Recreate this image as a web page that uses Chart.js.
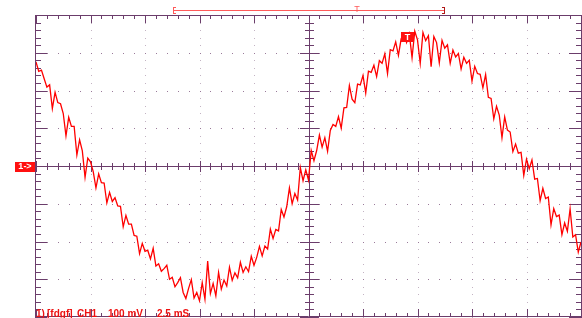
<!DOCTYPE html>
<html>
<head>
<meta charset="utf-8">
<style>
  html, body { margin: 0; padding: 0; background: #fff; }
  canvas { display: block; }
</style>
<script src="https://cdn.jsdelivr.net/npm/chart.js@4.4.0/dist/chart.umd.min.js"></script>
</head>
<body>
<canvas id="scope" width="582" height="318"></canvas>
<script>
// CH1 samples, in vertical divisions, one sample every 0.05 horizontal division
var sampleStep = 0.05;
var ch1Trace = [
  2.76, 2.51, 2.54, 2.31, 2.09, 2.15, 1.52, 1.95, 1.68, 1.65,
  1.39, 0.80, 1.29, 1.05, 1.05, 0.29, 0.69, 0.40, -0.30, 0.21,
  0.11, -0.15, -0.58, -0.21, -0.44, -0.45, -0.98, -0.70, -0.94, -0.84,
  -1.06, -1.07, -1.61, -1.31, -1.54, -1.54, -1.84, -1.86, -2.32, -2.05,
  -2.26, -2.23, -2.46, -2.18, -2.65, -2.59, -2.79, -2.72, -2.63, -3.00,
  -2.95, -3.20, -3.09, -2.96, -3.35, -3.51, -3.24, -3.01, -3.50, -3.35,
  -3.57, -3.09, -3.53, -2.52, -3.38, -3.11, -3.44, -2.82, -3.26, -3.02,
  -3.18, -2.68, -3.03, -2.83, -2.96, -2.55, -2.82, -2.67, -2.80, -2.39,
  -2.63, -2.42, -2.13, -2.38, -2.12, -2.20, -1.67, -1.92, -1.68, -1.72,
  -1.15, -1.35, -1.08, -0.58, -1.00, -0.73, -0.90, -0.04, -0.39, -0.10,
  -0.37, 0.41, 0.14, 0.41, 0.82, 0.50, 0.75, 0.39, 0.94, 1.10,
  1.05, 1.31, 1.00, 1.54, 1.55, 2.13, 1.77, 1.68, 2.17, 2.15,
  2.40, 1.93, 2.51, 2.48, 2.67, 2.37, 2.79, 2.72, 2.97, 2.45,
  3.08, 3.05, 3.29, 2.93, 3.37, 3.51, 3.27, 3.50, 2.87, 3.57,
  3.34, 2.72, 3.54, 3.32, 3.45, 2.63, 3.43, 3.27, 2.73, 3.33,
  3.12, 3.21, 2.72, 3.07, 2.89, 2.98, 2.57, 2.88, 2.72, 2.80,
  2.25, 2.64, 2.45, 2.43, 2.07, 2.42, 1.82, 1.79, 1.25, 1.58,
  1.35, 0.75, 1.30, 0.95, 0.90, 0.38, 0.58, 0.34, 0.36, -0.25,
  0.18, -0.07, 0.16, -0.35, -0.33, -0.92, -0.59, -0.86, -0.82, -1.56,
  -1.13, -1.34, -1.30, -1.82, -1.51, -1.73, -1.14, -1.88, -1.82, -2.28,
  -2.01
];
var xDivisions = [0, 1, 2, 3, 4, 5, 6, 7, 8, 9, 10];
var yDivisions = [-4, -3, -2, -1, 0, 1, 2, 3, 4];
var readout = ['1)', '[fdgf]', 'CH1', '100 mV', '2.5 mS'];
var readoutX = [36, 47, 77, 108, 157];
var peakMarkerAt = [6.7, 3.55];   // where the "T" flag sits, in divisions

var points = ch1Trace.map(function (v, i) {
  return { x: i * sampleStep, y: v };
});

var purple = '#6b3d6b';

function ticksAlong(from, to, step, draw) {
  for (var v = from; v <= to + 1e-6; v += step) draw(Math.round(v * 1000) / 1000);
}

var graticule = {
  id: 'graticule',
  beforeDatasetsDraw: function (chart) {
    var c = chart.ctx, xs = chart.scales.x, ys = chart.scales.y;
    var X = function (v) { return Math.round(xs.getPixelForValue(v)); };
    var Y = function (v) { return Math.round(ys.getPixelForValue(v)); };
    var L = X(0), R = X(10), T = Y(4), B = Y(-4), CX = X(5), CY = Y(0);
    c.save();

    // dotted grid
    xDivisions.forEach(function (d) {
      if (d === 0 || d === 5 || d === 10) return;
      c.fillStyle = '#c3b3c3';
      ticksAlong(-4, 4, 0.2, function (v) { c.fillRect(X(d), Y(v), 1, 1); });
    });
    yDivisions.forEach(function (d) {
      if (d === -4 || d === 0 || d === 4) return;
      c.fillStyle = '#9a7a9a';
      ticksAlong(0, 10, 0.2, function (v) { c.fillRect(X(v), Y(d), 1, 1); });
    });

    c.strokeStyle = purple;
    c.lineWidth = 1;
    c.beginPath();
    // frame
    c.moveTo(L - 0.5, T); c.lineTo(L - 0.5, B + 1);
    c.moveTo(R + 0.5, T); c.lineTo(R + 0.5, B + 1);
    c.moveTo(L - 1, T + 0.5); c.lineTo(R + 1, T + 0.5);
    c.moveTo(L - 1, B - 0.5); c.lineTo(R + 1, B - 0.5);
    // centre axes
    c.moveTo(L, CY + 0.5); c.lineTo(R, CY + 0.5);
    c.moveTo(CX + 0.5, T); c.lineTo(CX + 0.5, B);

    ticksAlong(0, 10, 0.2, function (v) {
      var major = Math.abs(v - Math.round(v)) < 1e-6;
      var px = X(v) + 0.5;
      c.moveTo(px, T); c.lineTo(px, T + (major ? 8 : 4));
      c.moveTo(px, B); c.lineTo(px, B - (major ? 8 : 4));
      c.moveTo(px, CY - (major ? 5 : 3)); c.lineTo(px, CY + (major ? 6 : 4));
    });
    ticksAlong(-4, 4, 0.2, function (v) {
      var major = Math.abs(v - Math.round(v)) < 1e-6;
      var py = Y(v) + 0.5;
      c.moveTo(L, py); c.lineTo(L + (major ? 11 : 5), py);
      c.moveTo(R, py); c.lineTo(R - (major ? 12 : 5), py);
      c.moveTo(CX - (major ? 9 : 4), py); c.lineTo(CX + (major ? 10 : 5), py);
    });
    c.stroke();
    c.restore();
  },
  afterDatasetsDraw: function (chart) {
    var c = chart.ctx, xs = chart.scales.x, ys = chart.scales.y;
    var CY = Math.round(ys.getPixelForValue(0));
    c.save();

    // channel 1 ground marker
    c.fillStyle = '#ff1010';
    c.fillRect(15, CY - 4, 20, 10);
    c.fillStyle = '#fff';
    c.font = 'bold 9px "Liberation Sans", Arial, sans-serif';
    c.textBaseline = 'middle';
    c.textAlign = 'center';
    c.fillText('1->', 25, CY + 1);

    // trigger flag on the trace
    var tx = Math.round(xs.getPixelForValue(peakMarkerAt[0]));
    var ty = Math.round(ys.getPixelForValue(peakMarkerAt[1]));
    c.fillStyle = '#ff1010';
    c.fillRect(tx, ty, 13, 10);
    c.fillStyle = '#fff';
    c.fillText('T', tx + 6.5, ty + 5.5);

    // trigger window bracket above the graticule
    c.strokeStyle = '#ff5a5a';
    c.lineWidth = 1;
    c.beginPath();
    c.moveTo(173, 10.5); c.lineTo(444, 10.5);
    c.moveTo(173.5, 7); c.lineTo(173.5, 14);
    c.moveTo(173, 7.5); c.lineTo(176, 7.5);
    c.moveTo(173, 13.5); c.lineTo(176, 13.5);
    c.stroke();
    c.strokeStyle = '#b01818';
    c.beginPath();
    c.moveTo(444.5, 7); c.lineTo(444.5, 14);
    c.moveTo(442, 7.5); c.lineTo(445, 7.5);
    c.moveTo(442, 13.5); c.lineTo(445, 13.5);
    c.stroke();
    c.fillStyle = '#ff5a5a';
    c.font = '9px "Liberation Sans", Arial, sans-serif';
    c.fillText('T', 357, 10);

    // readout line
    c.fillStyle = '#ee1111';
    c.font = 'bold 10px "Liberation Sans", Arial, sans-serif';
    c.textAlign = 'left';
    c.textBaseline = 'alphabetic';
    readout.forEach(function (s, i) { c.fillText(s, readoutX[i], 317); });
    c.restore();
  }
};

var ctx = document.getElementById('scope').getContext('2d');
var scopeChart = new Chart(ctx, {
  type: 'line',
  data: {
    datasets: [{
      label: 'CH1',
      data: points,
      borderColor: '#ff0000',
      borderWidth: 1.3,
      pointRadius: 0,
      tension: 0,
      fill: false
    }]
  },
  options: {
    responsive: false,
    animation: false,
    devicePixelRatio: 1,
    layout: { padding: { left: 36, right: 1, top: 15, bottom: 1 } },
    plugins: { legend: { display: false }, tooltip: { enabled: false } },
    scales: {
      x: { type: 'linear', min: 0, max: 10, display: false },
      y: { type: 'linear', min: -4, max: 4, display: false }
    }
  },
  plugins: [graticule]
});
</script>
</body>
</html>
